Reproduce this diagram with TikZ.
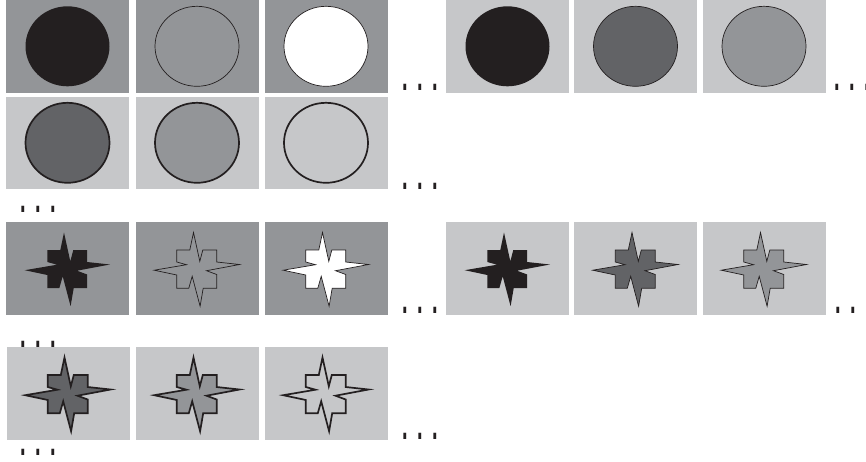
\documentclass[tikz,border=0pt]{standalone}
\usepackage{fontspec}
\setmainfont{Liberation Sans}
\usepackage{graphicx}
\definecolor{bgdark}{HTML}{939598}
\definecolor{bglight}{HTML}{C6C7C9}
\definecolor{shblack}{HTML}{231F20}
\definecolor{shdark}{HTML}{626366}
\definecolor{shmid}{HTML}{939598}
\definecolor{ink}{HTML}{231F20}
\newcommand\tridots{{\fontsize{20}{20}\selectfont\bfseries\scalebox{1}[2.1]{.\kern9.44pt.\kern9.44pt.}}}
\newcommand\tileat[3]{\fill[#3] (#1,#2) rectangle ++(123,92.5);}
\newcommand\circat[3]{\path[#3] (#1+61.5,#2+46.3) ellipse [x radius=42, y radius=40];}
\newcommand\starat[3]{\path[#3, shift={(#1,#2)}, line join=miter]
  (58,10.5) -- (64.3,39.3) -- (67.3,28) -- (81.2,28) -- (81.2,40) -- (104,42.5) --
  (71,48.7) -- (81.2,52.5) -- (81.2,66.2) -- (67.7,66.2) -- (64.6,84.2) -- (56.7,54.3) --
  (53.3,66.2) -- (41.3,66.2) -- (41.3,53) -- (18.7,48.2) -- (51,42.7) -- (41.3,40) --
  (41.3,28) -- (54.3,28) -- cycle;}
\begin{document}
\begin{tikzpicture}[x=1pt,y=-1pt,
  thinline/.style={draw=ink, line width=0.7pt},
  thickline/.style={draw=ink, line width=1.7pt},
  dotsnode/.style={inner sep=0pt, outer sep=0pt, text=ink}]
\useasboundingbox (0,0) rectangle (866,461);
% Row 1 (circles, dark background)
\tileat{6}{0}{bgdark}\tileat{135.5}{0}{bgdark}\tileat{264.5}{0}{bgdark}
\circat{6}{0}{fill=shblack}
\circat{135.5}{0}{fill=shmid, thinline}
\circat{264.5}{0}{fill=white, thinline}
% Row 1 right (circles, light background)
\tileat{446}{0}{bglight}\tileat{574}{0}{bglight}\tileat{702.5}{0}{bglight}
\circat{446}{0}{fill=shblack}
\circat{574}{0}{fill=shdark, thinline}
\circat{702.5}{0}{fill=shmid, thinline}
% Row 2
\tileat{6}{96.5}{bglight}\tileat{135.5}{96.5}{bglight}\tileat{264.5}{96.5}{bglight}
\circat{6}{96.5}{fill=shdark, thickline}
\circat{135.5}{96.5}{fill=shmid, thickline}
\circat{264.5}{96.5}{fill=bglight, thickline}
% Row 3 (stars, dark background)
\tileat{6}{222}{bgdark}\tileat{135.5}{222}{bgdark}\tileat{264.5}{222}{bgdark}
\starat{6}{222}{fill=shblack}
\starat{135.5}{222}{fill=shmid, thinline}
\starat{264.5}{222}{fill=white, thinline}
% Row 3 right
\tileat{446}{222}{bglight}\tileat{574}{222}{bglight}\tileat{702.5}{222}{bglight}
\starat{446}{222}{fill=shblack}
\starat{574}{222}{fill=shdark, thinline}
\starat{702.5}{222}{fill=shmid, thinline}
% Row 4
\tileat{6.5}{347}{bglight}\tileat{135.5}{347}{bglight}\tileat{264.5}{347}{bglight}
\starat{6.5}{347}{fill=shdark, thickline}
\starat{135.5}{347}{fill=shmid, thickline}
\starat{264.5}{347}{fill=bglight, thickline}
% Dots
\node[dotsnode] (d1) at (420,87.5) {\tridots};
\node[dotsnode] (d2) at (852,87.5) {\tridots};
\node[dotsnode] (d3) at (420,186) {\tridots};
\node[dotsnode] (d4) at (38,209) {\tridots};
\node[dotsnode] (d5) at (420,310) {\tridots};
\node[dotsnode] (d6) at (853,310) {\tridots};
\node[dotsnode] (d7) at (38,344) {\tridots};
\node[dotsnode] (d8) at (420,436) {\tridots};
\node[dotsnode] (d9) at (38,452) {\tridots};
\end{tikzpicture}
\end{document}
